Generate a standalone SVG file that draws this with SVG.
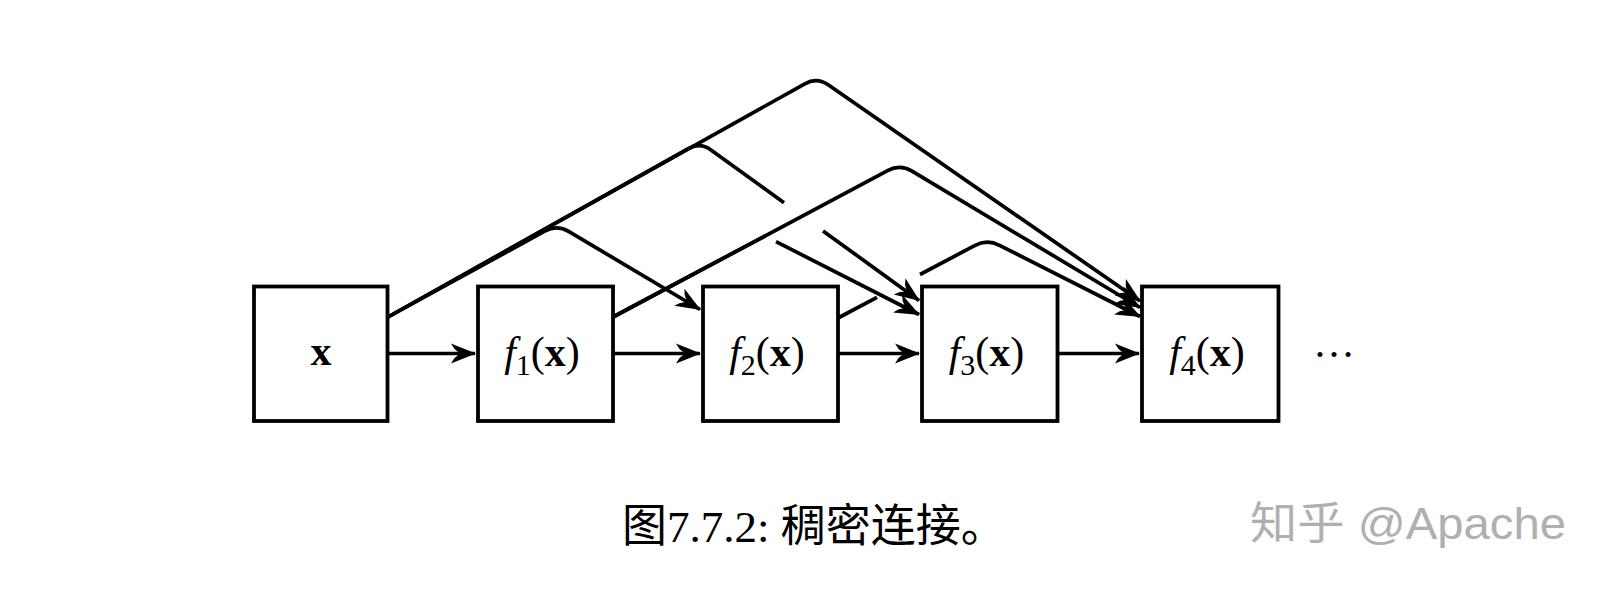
<svg xmlns="http://www.w3.org/2000/svg" width="1609" height="593" viewBox="0 0 1609 593">
<style>
.box{fill:#fff;stroke:#000;stroke-width:3.8}
.lbl{font-family:"Liberation Serif","Times New Roman",serif;font-size:42px;fill:#000}
.conn path{fill:none;stroke:#000;stroke-width:3.7;stroke-linejoin:round}
.arr{marker-end:url(#ah)}
.cap{font-family:"Liberation Serif","Noto Sans CJK SC",serif;font-size:45px;fill:#000}
.wm{font-family:"Liberation Sans","Noto Sans CJK SC",sans-serif;font-size:44px;fill:#b0b0b0}
</style>
<defs>
<marker id="ah" viewBox="-27 -12 29 24" refX="0" refY="0" markerWidth="29" markerHeight="24" markerUnits="userSpaceOnUse" orient="auto">
<path d="M1,0 L-24,-10 L-20.5,-4.5 L-15,0 L-20.5,4.5 L-24,10 Z" fill="#000"/>
</marker>
</defs>
<rect width="1609" height="593" fill="#fff"/>
<g class="conn" id="connectors">
<path class="arr" d="M388,353.5 L475,353.5"/>
<path class="arr" d="M613,353.5 L700,353.5"/>
<path class="arr" d="M838,353.5 L919,353.5"/>
<path class="arr" d="M1057,353.5 L1139,353.5"/>
<path class="arr" d="M388,317 L544.7,231.2 Q557,224.5 569,231.6 L700,309.5"/>
<path d="M388,317 L687.8,148.85 Q700,142 711.35,150.2 L784,202.7"/>
<path class="arr" d="M823,230.9 L919,300.5"/>
<path class="arr" d="M388,317 L804.8,83.8 Q817,77 828.5,85 L1140,301"/>
<path class="arr" d="M613,317 L887.6,170.6 Q900,164 912,171.2 L1140,307.5"/>
<path d="M613,317 L765,236"/>
<path class="arr" d="M776,241.6 L919,314.5"/>
<path d="M838,318 L877,297.3"/>
<path class="arr" d="M920,274.5 L974.6,245.6 Q987,239 999.5,245.3 L1140,316.5"/>
</g>
<g id="node-x">
<rect class="box" x="254" y="286.5" width="133.5" height="134.5"/>
<text class="lbl" x="321" y="365" text-anchor="middle" font-weight="bold">x</text>
</g>
<g id="node-f1">
<rect class="box" x="478" y="286.5" width="135" height="134.5"/>
<text class="lbl" x="542" y="366" text-anchor="middle"><tspan font-style="italic">f</tspan><tspan font-size="30" dy="9">1</tspan><tspan dy="-9">(</tspan><tspan font-weight="bold">x</tspan>)</text>
</g>
<g id="node-f2">
<rect class="box" x="703" y="286.5" width="135" height="134.5"/>
<text class="lbl" x="767" y="366" text-anchor="middle"><tspan font-style="italic">f</tspan><tspan font-size="30" dy="9">2</tspan><tspan dy="-9">(</tspan><tspan font-weight="bold">x</tspan>)</text>
</g>
<g id="node-f3">
<rect class="box" x="922" y="286.5" width="135.5" height="134.5"/>
<text class="lbl" x="986.5" y="366" text-anchor="middle"><tspan font-style="italic">f</tspan><tspan font-size="30" dy="9">3</tspan><tspan dy="-9">(</tspan><tspan font-weight="bold">x</tspan>)</text>
</g>
<g id="node-f4">
<rect class="box" x="1142" y="286.5" width="136.5" height="134.5"/>
<text class="lbl" x="1207" y="366" text-anchor="middle"><tspan font-style="italic">f</tspan><tspan font-size="30" dy="9">4</tspan><tspan dy="-9">(</tspan><tspan font-weight="bold">x</tspan>)</text>
</g>
<g id="ellipsis">
<text class="lbl" x="1313" y="357">…</text>
</g>
<text class="cap" x="622" y="542">图7.7.2: 稠密连接。</text>
<text class="wm" x="1250" y="539" textLength="316" lengthAdjust="spacingAndGlyphs">知乎 @Apache</text>
</svg>
